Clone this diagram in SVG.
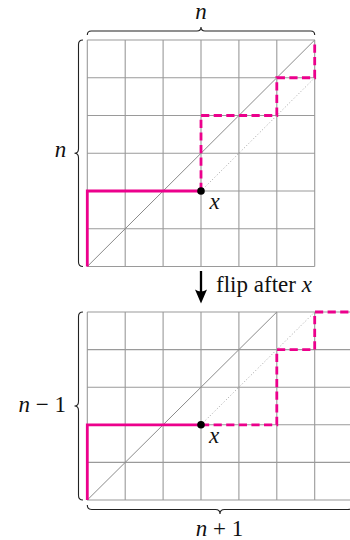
<svg xmlns="http://www.w3.org/2000/svg" width="350" height="540" viewBox="0 0 350 540">
<style>
.grid{stroke:#9a9a9a;stroke-width:1.1;fill:none}
.diag{stroke:#8a8a8a;stroke-width:1;fill:none}
.dot{stroke:#999;stroke-width:0.9;stroke-dasharray:1 2.2;fill:none}
.pk{stroke:#ec008c;stroke-width:2.8;fill:none}
.pkd{stroke:#ec008c;stroke-width:2.8;fill:none;stroke-dasharray:8.2 4.4}
.br{stroke:#222;stroke-width:1.1;fill:none}
text{font-family:"Liberation Serif","DejaVu Serif",serif;font-size:23px;fill:#111}
.it{font-style:italic}
</style>
<rect width="350" height="540" fill="#fff"/>
<g id="top-grid">
<path class="grid" d="M87.3,40V266.5M125.2,40V266.5M163.1,40V266.5M201,40V266.5M238.9,40V266.5M276.8,40V266.5M314.7,40V266.5M87.3,40H314.7M87.3,77.75H314.7M87.3,115.5H314.7M87.3,153.25H314.7M87.3,191H314.7M87.3,228.75H314.7M87.3,266.5H314.7"/>
<path class="diag" d="M87.3,266.5L314.7,40"/>
<path class="dot" d="M201,191L314.7,77.75"/>
<path class="pk" d="M87.3,266.5V191H201"/>
<path class="pkd" d="M201,191V115.5H276.8V77.75H314.7V40"/>
<circle cx="201" cy="191" r="3.8" fill="#000"/>
<text x="209.5" y="209" class="it">x</text>
</g>
<g id="bottom-grid">
<path class="grid" d="M87.3,312V500M125.2,312V500M163.1,312V500M201,312V500M238.9,312V500M276.8,312V500M314.7,312V500M352.6,312V500M87.3,312H352.6M87.3,349.6H352.6M87.3,387.2H352.6M87.3,424.8H352.6M87.3,462.4H352.6M87.3,500H352.6"/>
<path class="diag" d="M87.3,500L276.8,312"/>
<path class="dot" d="M201,424.8L314.7,312"/>
<path class="pk" d="M87.3,500V424.8H201"/>
<path class="pkd" d="M201,424.8H276.8V349.6H314.7V312H352.6"/>
<circle cx="201" cy="424.8" r="3.8" fill="#000"/>
<text x="209" y="443" class="it">x</text>
</g>
<g id="braces">
<path class="br" d="M87.3,35Q87.3,31 91.3,31H197Q201,31 201,27Q201,31 205,31H310.7Q314.7,31 314.7,35"/>
<path class="br" d="M83,40Q78.5,40 78.5,44.5V148.75Q78.5,153.25 74.5,153.25Q78.5,153.25 78.5,157.75V262Q78.5,266.5 83,266.5"/>
<path class="br" d="M83,312Q78.5,312 78.5,316.5V401.5Q78.5,406 74.5,406Q78.5,406 78.5,410.5V495.5Q78.5,500 83,500"/>
<path class="br" d="M87.3,505Q87.3,509.5 91.8,509.5H215.5Q220,509.5 220,514Q220,509.5 224.5,509.5H348Q352.6,509.5 352.6,505"/>
</g>
<g id="labels">
<text x="201" y="19.3" text-anchor="middle" class="it">n</text>
<text x="60.5" y="157.3" text-anchor="middle" class="it">n</text>
<text x="66" y="411.7" text-anchor="end"><tspan class="it">n</tspan> − 1</text>
<text x="219.5" y="536" text-anchor="middle"><tspan class="it">n</tspan> + 1</text>
</g>
<g id="flip">
<path d="M201,271V293" stroke="#000" stroke-width="2.3" fill="none"/>
<path d="M201,303.5L195,289.5Q201,293.5 207,289.5Z" fill="#000"/>
<text x="216" y="292" textLength="96">flip after <tspan class="it">x</tspan></text>
</g>
</svg>
